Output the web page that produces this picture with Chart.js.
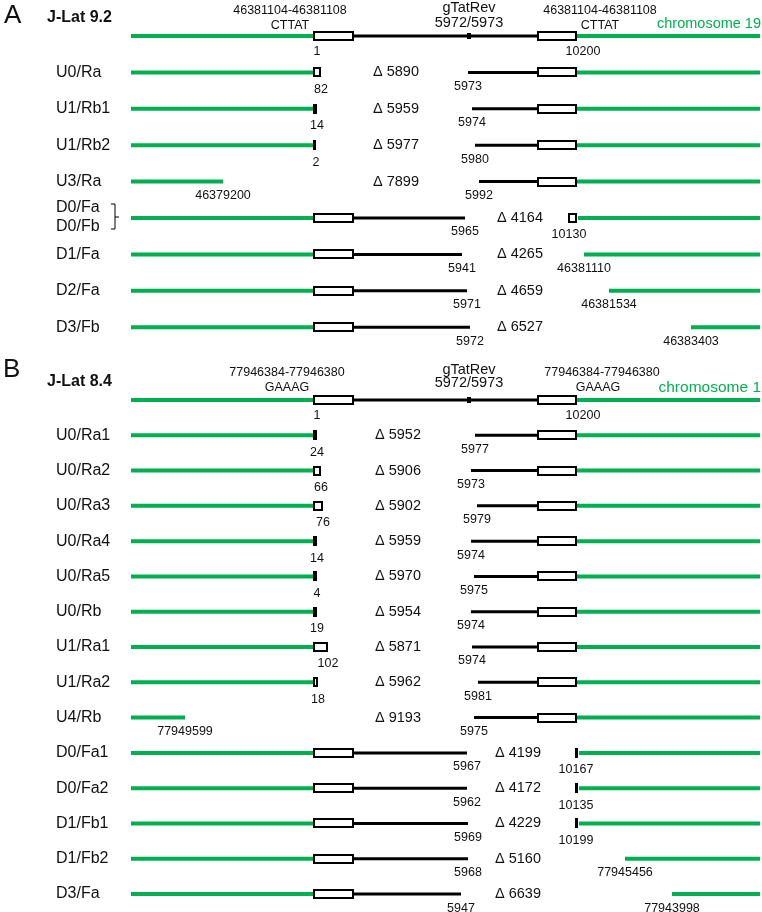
<!DOCTYPE html>
<html>
<head>
<meta charset="utf-8">
<script src="https://cdn.jsdelivr.net/npm/chart.js@4"></script>
<style>
  html, body { margin: 0; padding: 0; background: #ffffff; }
  canvas { display: block; }
</style>
</head>
<body>
<canvas id="map" width="762" height="912"></canvas>
<script>
const GREEN = '#00b050'
const FONT = '"Liberation Sans", Arial, sans-serif'

// schematic landmarks on the x axis (schematic units, not bp)
const CHR_L = 131, LTR5_S = 313, LTR5_E = 354, TAT = 469, LTR3_S = 537, LTR3_E = 577, CHR_R = 760

// ---- panel A : J-Lat 9.2 ----
const namesA = ['U0/Ra', 'U1/Rb1', 'U1/Rb2', 'U3/Ra', 'D0/Fa', 'D1/Fa', 'D2/Fa', 'D3/Fb']
const deltaA = [5890, 5959, 5977, 7899, 4164, 4265, 4659, 6527]
const leftGreenEndA = [313, 313, 313, 223, 313, 313, 313, 313]
const leftLtrEndA = [321, 317, 316, null, 354, 354, 354, 354]
const leftBlackEndA = [null, null, null, null, 465, 462, 467, 470]
const rightBlackStartA = [468, 472, 475, 479, null, null, null, null]
const rightLtrStartA = [537, 537, 537, 537, 568, null, null, null]
const rightGreenStartA = [577, 577, 577, 577, 578, 584, 609, 691]
const leftTickA = ['82', '14', '2', '46379200', '5965', '5941', '5971', '5972']
const rightTickA = ['5973', '5974', '5980', '5992', '10130', '46381110', '46381534', '46383403']

// ---- panel B : J-Lat 8.4 ----
const namesB = ['U0/Ra1', 'U0/Ra2', 'U0/Ra3', 'U0/Ra4', 'U0/Ra5', 'U0/Rb', 'U1/Ra1', 'U1/Ra2', 'U4/Rb',
                'D0/Fa1', 'D0/Fa2', 'D1/Fb1', 'D1/Fb2', 'D3/Fa']
const deltaB = [5952, 5906, 5902, 5959, 5970, 5954, 5871, 5962, 9193, 4199, 4172, 4229, 5160, 6639]
const leftGreenEndB = [313, 313, 313, 313, 313, 313, 313, 313, 185, 313, 313, 313, 313, 313]
const leftLtrEndB = [317, 321, 323, 317, 317, 317, 328, 318, null, 354, 354, 354, 354, 354]
const leftBlackEndB = [null, null, null, null, null, null, null, null, null, 467, 467, 468, 468, 461]
const rightBlackStartB = [475, 471, 477, 471, 474, 471, 472, 478, 474, null, null, null, null, null]
const rightLtrStartB = [537, 537, 537, 537, 537, 537, 537, 537, 537, 575, 575, 575, null, null]
const rightGreenStartB = [577, 577, 577, 577, 577, 577, 577, 577, 577, 579, 579, 579, 625, 672]
const leftTickB = ['24', '66', '76', '14', '4', '19', '102', '18', '77949599', '5967', '5962', '5969', '5968', '5947']
const rightTickB = ['5977', '5973', '5979', '5974', '5975', '5974', '5974', '5981', '5975',
                    '10167', '10135', '10199', '77945456', '77943998']

// row layout of each panel (pixel of reference row, row pitch)
const H = 912
const layoutA = {top: 36, step: 36.4}
const layoutB = {top: 400, step: 35.29}

const datasets = []
const boxes = []
const texts = []

function seg(x0, x1, row, axis, color, width) {
  datasets.push({
    data: [{x: x0, y: row}, {x: x1, y: row}],
    yAxisID: axis,
    showLine: true,
    borderColor: color,
    borderWidth: width,
    pointRadius: 0,
    fill: false
  })
}

function txt(text, x, row, axis, dy, size, align, opts) {
  texts.push(Object.assign({text, x, row, axis, dy, size, align}, opts || {}))
}

function buildPanel(axis, names, delta, lgEnd, lltEnd, lbEnd, rbStart, rltStart, rgStart, lTick, rTick, deltaCols) {
  // reference provirus, row 0
  seg(CHR_L, LTR5_S, 0, axis, GREEN, 4)
  seg(LTR5_E, LTR3_S, 0, axis, '#000', 3)
  seg(LTR3_E, CHR_R, 0, axis, GREEN, 4)
  boxes.push({x0: LTR5_S, x1: LTR5_E, row: 0, axis})
  boxes.push({x0: LTR3_S, x1: LTR3_E, row: 0, axis})
  boxes.push({x0: TAT - 1.5, x1: TAT + 1.5, row: 0, axis, solid: true, h: 6})
  txt('1', 317, 0, axis, 16, 12.5, 'center')
  txt('10200', 583, 0, axis, 16, 12.5, 'center')

  names.forEach((name, k) => {
    const r = k + 1
    seg(CHR_L, lgEnd[k], r, axis, GREEN, 4)
    if (lbEnd[k] != null) seg(LTR5_E, lbEnd[k], r, axis, '#000', 3)
    if (lltEnd[k] != null) boxes.push({x0: LTR5_S, x1: lltEnd[k], row: r, axis})
    if (rbStart[k] != null) seg(rbStart[k], LTR3_S, r, axis, '#000', 3)
    seg(rgStart[k], CHR_R, r, axis, GREEN, 4)
    if (rltStart[k] != null) boxes.push({x0: rltStart[k], x1: LTR3_E, row: r, axis})

    if (!name.startsWith('D0/Fa') || axis === 'yB') txt(name, 56, r, axis, 0, 16, 'left')
    const isU = name.startsWith('U')
    txt('\u0394 ' + delta[k], isU ? deltaCols[0] : deltaCols[1], r, axis, 0, 14.5, 'left')

    // junction labels
    let lx, ldy = 14
    if (lbEnd[k] != null) lx = lbEnd[k]
    else if (lltEnd[k] != null) { lx = lltEnd[k]; ldy = 17 }
    else lx = lgEnd[k]
    txt(lTick[k], lx, r, axis, ldy, 12.5, 'center')

    let rx, rdy = 14
    if (rbStart[k] != null) rx = rbStart[k]
    else if (rltStart[k] != null) { rx = rltStart[k] + 1; rdy = 17 }
    else rx = rgStart[k]
    txt(rTick[k], rx, r, axis, rdy, 12.5, 'center')
  })
}

buildPanel('yA', namesA, deltaA, leftGreenEndA, leftLtrEndA, leftBlackEndA, rightBlackStartA,
           rightLtrStartA, rightGreenStartA, leftTickA, rightTickA, [373, 497])
buildPanel('yB', namesB, deltaB, leftGreenEndB, leftLtrEndB, leftBlackEndB, rightBlackStartB,
           rightLtrStartB, rightGreenStartB, leftTickB, rightTickB, [375, 495])

// headers
txt('A', 4, 0, 'yA', -20, 26, 'left')
txt('J-Lat 9.2', 47, 0, 'yA', -18, 16, 'left', {bold: true})
txt('46381104-46381108', 290, 0, 'yA', -25, 12.5, 'center')
txt('CTTAT', 290, 0, 'yA', -10, 12.5, 'center')
txt('gTatRev', 469, 0, 'yA', -28, 14.5, 'center')
txt('5972/5973', 469, 0, 'yA', -13, 14.5, 'center')
txt('46381104-46381108', 600, 0, 'yA', -25, 12.5, 'center')
txt('CTTAT', 600, 0, 'yA', -10, 12.5, 'center')
txt('chromosome 19', 761, 0, 'yA', -12, 14.5, 'right', {color: GREEN})
// bracketed pair D0/Fa + D0/Fb on row 5 of panel A
txt('D0/Fa', 56, 5, 'yA', -10, 16, 'left')
txt('D0/Fb', 56, 5, 'yA', 9, 16, 'left')

txt('B', 3, 0, 'yB', -30, 26, 'left')
txt('J-Lat 8.4', 47, 0, 'yB', -18, 16, 'left', {bold: true})
txt('77946384-77946380', 287, 0, 'yB', -27, 12.5, 'center')
txt('GAAAG', 287, 0, 'yB', -12, 12.5, 'center')
txt('gTatRev', 469, 0, 'yB', -30, 14.5, 'center')
txt('5972/5973', 469, 0, 'yB', -17, 14.5, 'center')
txt('77946384-77946380', 602, 0, 'yB', -27, 12.5, 'center')
txt('GAAAG', 598, 0, 'yB', -12, 12.5, 'center')
txt('chromosome 1', 761, 0, 'yB', -12, 15.5, 'right', {color: GREEN})

const overlay = {
  id: 'overlay',
  beforeDraw: (chart) => {
    const {ctx} = chart
    ctx.save()
    ctx.fillStyle = '#ffffff'
    ctx.fillRect(0, 0, chart.width, chart.height)
    ctx.restore()
  },
  afterDatasetsDraw: (chart) => {
    const {ctx, scales} = chart
    const x = scales.x
    ctx.save()
    boxes.forEach(b => {
      const y = scales[b.axis].getPixelForValue(b.row)
      const p0 = Math.round(x.getPixelForValue(b.x0))
      const p1 = Math.round(x.getPixelForValue(b.x1))
      const h = b.h || 10
      const w = p1 - p0
      if (b.solid || w <= 4) {
        ctx.fillStyle = '#000'
        ctx.fillRect(p0, Math.round(y - h / 2), Math.max(w, 3), h)
      } else {
        ctx.fillStyle = '#fff'
        ctx.fillRect(p0, Math.round(y - h / 2), w, h)
        ctx.strokeStyle = '#000'
        ctx.lineWidth = 2
        ctx.strokeRect(p0 + 1, Math.round(y - h / 2) + 1, w - 2, h - 2)
      }
    })
    // bracket joining D0/Fa and D0/Fb
    const yb = scales.yA.getPixelForValue(5)
    const bx = x.getPixelForValue(115)
    ctx.strokeStyle = '#000'
    ctx.lineWidth = 1
    ctx.beginPath()
    ctx.moveTo(bx - 4, yb - 14)
    ctx.lineTo(bx, yb - 14)
    ctx.lineTo(bx, yb + 11)
    ctx.lineTo(bx - 4, yb + 11)
    ctx.moveTo(bx, yb - 1)
    ctx.lineTo(bx + 4, yb - 1)
    ctx.stroke()

    ctx.textBaseline = 'middle'
    texts.forEach(t => {
      const y = scales[t.axis].getPixelForValue(t.row) + t.dy
      ctx.font = (t.bold ? 'bold ' : '') + t.size + 'px ' + FONT
      ctx.fillStyle = t.color || '#111'
      ctx.textAlign = t.align
      ctx.fillText(t.text, x.getPixelForValue(t.x), y)
    })
    ctx.restore()
  }
}

new Chart(document.getElementById('map'), {
  type: 'scatter',
  data: {datasets: datasets},
  options: {
    responsive: false,
    devicePixelRatio: 1,
    animation: false,
    events: [],
    layout: {padding: 0},
    scales: {
      x: {type: 'linear', min: 0, max: 762, display: false},
      yA: {type: 'linear', reverse: true, display: false,
           min: -layoutA.top / layoutA.step, max: (H - layoutA.top) / layoutA.step},
      yB: {type: 'linear', reverse: true, display: false,
           min: -layoutB.top / layoutB.step, max: (H - layoutB.top) / layoutB.step}
    },
    plugins: {
      legend: {display: false},
      tooltip: {enabled: false}
    }
  },
  plugins: [overlay]
})
</script>
</body>
</html>
